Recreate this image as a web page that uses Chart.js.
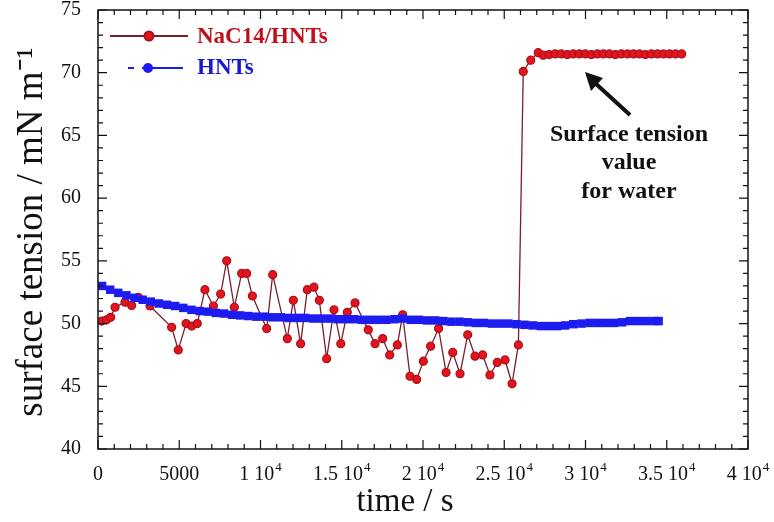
<!DOCTYPE html>
<html>
<head>
<meta charset="utf-8">
<script src="https://cdn.jsdelivr.net/npm/chart.js@4.4.1/dist/chart.umd.min.js"></script>
<style>
  body { margin: 0; background: #fff; }
  canvas { display: block; }
</style>
</head>
<body>
<canvas id="tensionChart" width="774" height="522"></canvas>
<script>
// NaC14/HNTs series (time in s, surface tension in mN/m)
const redTime = [230, 530, 780, 1050, 1660, 2070, 2480, 3200, 4530, 4940,
  5420, 5770, 6110, 6580, 7100, 7550, 7920, 8390, 8840, 9150,
  9500, 10380, 10750, 11650, 12020, 12470, 12880, 13290, 13620, 14070,
  14520, 14940, 15340, 15820, 16630, 17050, 17520, 17950, 18420, 18750,
  19200, 19610, 20020, 20470, 20960, 21420, 21830, 22280, 22750, 23200,
  23670, 24120, 24570, 25050, 25480, 25870, 26170, 26630, 27090, 27400,
  27770, 28140, 28510, 28880, 29250, 29620, 29990, 30360, 30730, 31100,
  31470, 31840, 32210, 32580, 32950, 33320, 33690, 34060, 34430, 34800,
  35170, 35540, 35920];
const redTension = [50.2, 50.3, 50.5, 51.3, 51.7, 51.45, 52.1, 51.4, 49.7, 47.9,
  50.0, 49.8, 50.0, 52.7, 51.4, 52.35, 55.0, 51.3, 54.0, 54.0,
  52.2, 49.6, 53.9, 48.8, 51.85, 48.4, 52.7, 52.9, 51.85, 47.2,
  51.1, 48.4, 50.9, 51.65, 49.5, 48.4, 48.8, 47.5, 48.3, 50.7,
  45.8, 45.55, 47.0, 48.2, 49.6, 46.1, 47.7, 46.0, 49.1, 47.4,
  47.5, 45.9, 46.9, 47.1, 45.2, 48.3, 70.1, 71.0, 71.6, 71.4,
  71.45, 71.5, 71.5, 71.45, 71.5, 71.5, 71.5, 71.45, 71.5, 71.5,
  71.5, 71.45, 71.5, 71.5, 71.5, 71.5, 71.45, 71.5, 71.5, 71.5,
  71.5, 71.5, 71.5];

// HNTs series
const blueTime = [250, 750, 1250, 1750, 2250, 2750, 3250, 3750, 4250, 4750,
  5250, 5750, 6250, 6750, 7250, 7750, 8250, 8750, 9250, 9750,
  10250, 10750, 11250, 11750, 12250, 12750, 13250, 13750, 14250, 14750,
  15250, 15750, 16250, 16750, 17250, 17750, 18250, 18750, 19250, 19750,
  20250, 20750, 21250, 21750, 22250, 22750, 23250, 23750, 24250, 24750,
  25250, 25750, 26250, 26750, 27250, 27750, 28250, 28750, 29250, 29750,
  30250, 30750, 31250, 31750, 32250, 32750, 33250, 33750, 34250, 34500];
const blueTension = [53.0, 52.7, 52.45, 52.25, 52.05, 51.9, 51.75, 51.6, 51.5, 51.4,
  51.25, 51.1, 51.0, 50.95, 50.85, 50.8, 50.7, 50.65, 50.6, 50.55,
  50.55, 50.5, 50.5, 50.45, 50.45, 50.45, 50.4, 50.4, 50.4, 50.35,
  50.35, 50.35, 50.3, 50.3, 50.3, 50.3, 50.35, 50.4, 50.3, 50.3,
  50.25, 50.25, 50.2, 50.15, 50.15, 50.1, 50.05, 50.05, 50.0, 50.0,
  50.0, 49.95, 49.9, 49.85, 49.8, 49.8, 49.8, 49.85, 49.95, 50.0,
  50.05, 50.05, 50.05, 50.05, 50.1, 50.2, 50.2, 50.2, 50.2, 50.2];

const xTicks = [0, 5000, 10000, 15000, 20000, 25000, 30000, 35000, 40000];
const yTicks = [40, 45, 50, 55, 60, 65, 70, 75];

const RED_FILL = '#e3141c';
const RED_EDGE = '#a8101c';
const RED_LINE = '#7a1f2e';
const BLUE = '#1c1cf0';
const SERIF = '"Liberation Serif", "Times New Roman", serif';

function toPoints(xs, ys) {
  return xs.map((x, i) => ({ x: x, y: ys[i] }));
}

// split a tick value into mantissa text and exponent (for "1.5 10^4" labels)
function timeLabel(v) {
  if (v === 0) return { base: '0', exp: '' };
  if (v === 5000) return { base: '5000', exp: '' };
  return { base: (v / 10000) + ' 10', exp: '4' };
}

// frame, inward ticks, x tick labels, titles, legend and the annotation
const decorations = {
  id: 'decorations',
  afterDraw(chart) {
    const ctx = chart.ctx;
    const area = chart.chartArea;
    const xs = chart.scales.x;
    const ys = chart.scales.y;
    ctx.save();
    ctx.strokeStyle = '#111';
    ctx.lineWidth = 1.5;
    ctx.strokeRect(area.left, area.top, area.right - area.left, area.bottom - area.top);

    ctx.lineWidth = 1.2;
    ctx.beginPath();
    for (let v = 0; v <= 40000; v += 1000) {
      const px = xs.getPixelForValue(v);
      const len = v % 5000 === 0 ? 9 : 5;
      ctx.moveTo(px, area.bottom); ctx.lineTo(px, area.bottom - len);
      ctx.moveTo(px, area.top); ctx.lineTo(px, area.top + len);
    }
    for (let v = 40; v <= 75; v += 1) {
      const py = ys.getPixelForValue(v);
      const len = v % 5 === 0 ? 9 : 5;
      ctx.moveTo(area.left, py); ctx.lineTo(area.left + len, py);
      ctx.moveTo(area.right, py); ctx.lineTo(area.right - len, py);
    }
    ctx.stroke();

    // x tick labels with small raised exponent
    ctx.fillStyle = '#111';
    ctx.textBaseline = 'alphabetic';
    xTicks.forEach(v => {
      const lab = timeLabel(v);
      ctx.font = '20px ' + SERIF;
      const wb = ctx.measureText(lab.base).width;
      ctx.font = '13px ' + SERIF;
      const we = lab.exp ? ctx.measureText(lab.exp).width + 1 : 0;
      const x0 = xs.getPixelForValue(v) - (wb + we) / 2;
      ctx.font = '20px ' + SERIF;
      ctx.textAlign = 'left';
      ctx.fillText(lab.base, x0, 480);
      if (lab.exp) {
        ctx.font = '13px ' + SERIF;
        ctx.fillText(lab.exp, x0 + wb + 1, 471);
      }
    });

    // axis titles
    ctx.textAlign = 'center';
    ctx.textBaseline = 'middle';
    ctx.font = '33px ' + SERIF;
    ctx.fillText('time / s', 405, 502);
    ctx.save();
    ctx.translate(32, 232);
    ctx.rotate(-Math.PI / 2);
    ctx.font = '37px ' + SERIF;
    ctx.fillText('surface tension / mN m\u207B\u00B9', 0, 0);
    ctx.restore();

    // legend
    ctx.lineWidth = 2;
    ctx.strokeStyle = RED_LINE;
    ctx.beginPath(); ctx.moveTo(110, 36); ctx.lineTo(188, 36); ctx.stroke();
    ctx.fillStyle = RED_FILL;
    ctx.strokeStyle = RED_EDGE;
    ctx.beginPath(); ctx.arc(149, 36, 4.5, 0, Math.PI * 2); ctx.fill(); ctx.stroke();
    ctx.strokeStyle = BLUE;
    ctx.beginPath();
    ctx.moveTo(128, 68); ctx.lineTo(134, 68);
    ctx.moveTo(142, 68); ctx.lineTo(183, 68);
    ctx.stroke();
    ctx.fillStyle = BLUE;
    ctx.beginPath(); ctx.arc(148, 68, 5, 0, Math.PI * 2); ctx.fill();
    ctx.textAlign = 'left';
    ctx.font = 'bold 23px ' + SERIF;
    ctx.fillStyle = '#c0101c';
    ctx.fillText('NaC14/HNTs', 197, 37);
    ctx.fillStyle = '#1a1ad0';
    ctx.fillText('HNTs', 197, 68);

    // annotation
    ctx.fillStyle = '#111';
    ctx.textAlign = 'center';
    ctx.font = 'bold 24px ' + SERIF;
    ctx.fillText('Surface tension', 629, 135);
    ctx.fillText('value', 629, 163);
    ctx.fillText('for water', 629, 192);
    ctx.strokeStyle = '#111';
    ctx.lineWidth = 4;
    ctx.beginPath(); ctx.moveTo(630, 115); ctx.lineTo(594, 82); ctx.stroke();
    ctx.beginPath();
    ctx.moveTo(585, 72);
    ctx.lineTo(603, 78);
    ctx.lineTo(591, 91);
    ctx.closePath();
    ctx.fill();
    ctx.restore();
  }
};

const ctx = document.getElementById('tensionChart').getContext('2d');
new Chart(ctx, {
  type: 'line',
  data: {
    datasets: [
      {
        label: 'HNTs',
        data: toPoints(blueTime, blueTension),
        borderColor: BLUE,
        backgroundColor: BLUE,
        borderWidth: 4,
        pointStyle: 'rect',
        pointRadius: 6,
        pointBorderWidth: 0,
        tension: 0,
        order: 0
      },
      {
        label: 'NaC14/HNTs',
        data: toPoints(redTime, redTension),
        borderColor: RED_LINE,
        backgroundColor: RED_FILL,
        pointBackgroundColor: RED_FILL,
        pointBorderColor: RED_EDGE,
        pointBorderWidth: 1.2,
        borderWidth: 1.3,
        pointRadius: 4,
        tension: 0,
        order: 1
      }
    ]
  },
  options: {
    responsive: false,
    animation: false,
    layout: { autoPadding: false, padding: { top: 10, right: 26, left: 0, bottom: 0 } },
    plugins: { legend: { display: false }, tooltip: { enabled: false } },
    scales: {
      x: {
        type: 'linear',
        min: 0,
        max: 40000,
        afterFit(scale) {
          scale.height = 73;
          scale.paddingLeft = 0; scale.paddingRight = 0;
        },
        afterBuildTicks(scale) { scale.ticks = xTicks.map(v => ({ value: v })); },
        ticks: { display: false },
        grid: { display: false, drawTicks: false },
        border: { display: false }
      },
      y: {
        min: 40,
        max: 75,
        afterFit(scale) {
          scale.width = 98;
          scale.paddingTop = 0; scale.paddingBottom = 0;
        },
        afterBuildTicks(scale) { scale.ticks = yTicks.map(v => ({ value: v })); },
        ticks: {
          color: '#111',
          font: { family: SERIF, size: 20 },
          padding: 17
        },
        grid: { display: false, drawTicks: false },
        border: { display: false }
      }
    }
  },
  plugins: [decorations]
});
</script>
</body>
</html>
